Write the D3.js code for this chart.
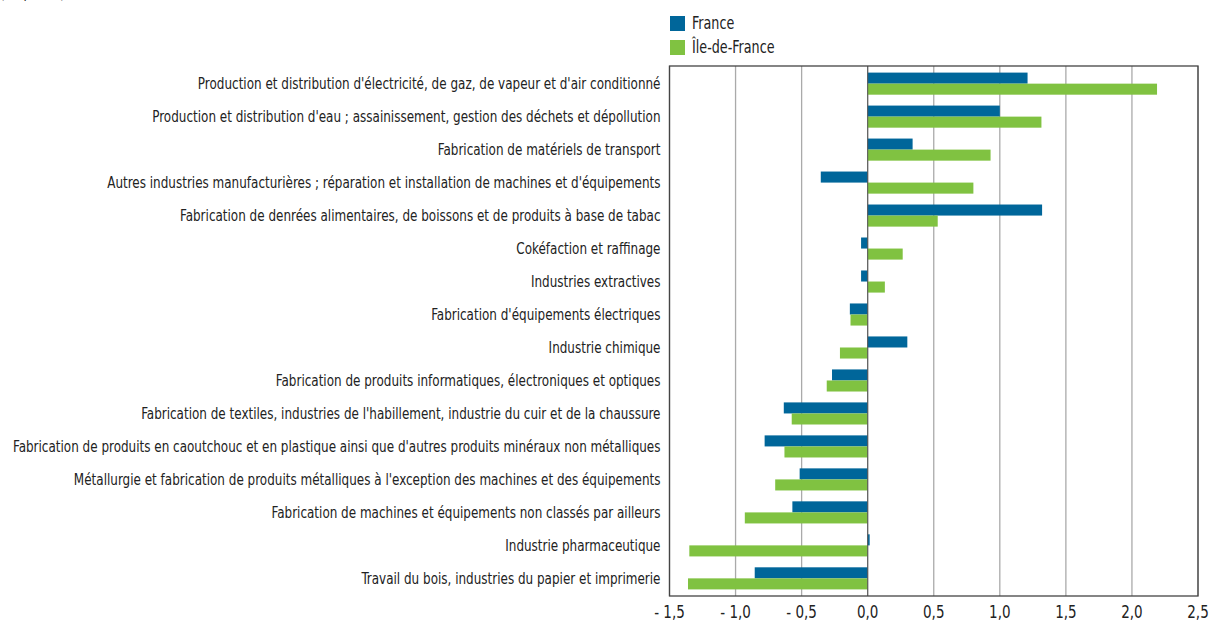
<!DOCTYPE html>
<html>
<head>
<meta charset="utf-8">
<script src="https://cdn.jsdelivr.net/npm/d3@7"></script>
<style>
  body { margin: 0; background: #fff; }
  text { font-family: "DejaVu Sans", sans-serif; font-stretch: condensed; fill: #222; }
</style>
</head>
<body>
<div id="chart"></div>
<script>
var categories = [
    "Production et distribution d'électricité, de gaz, de vapeur et d'air conditionné",
    "Production et distribution d'eau ; assainissement, gestion des déchets et dépollution",
    "Fabrication de matériels de transport",
    "Autres industries manufacturières ; réparation et installation de machines et d'équipements",
    "Fabrication de denrées alimentaires, de boissons et de produits à base de tabac",
    "Cokéfaction et raffinage",
    "Industries extractives",
    "Fabrication d'équipements électriques",
    "Industrie chimique",
    "Fabrication de produits informatiques, électroniques et optiques",
    "Fabrication de textiles, industries de l'habillement, industrie du cuir et de la chaussure",
    "Fabrication de produits en caoutchouc et en plastique ainsi que d'autres produits minéraux non métalliques",
    "Métallurgie et fabrication de produits métalliques à l'exception des machines et des équipements",
    "Fabrication de machines et équipements non classés par ailleurs",
    "Industrie pharmaceutique",
    "Travail du bois, industries du papier et imprimerie"
];

var france = [1.21, 1.00, 0.34, -0.355, 1.32, -0.05, -0.05, -0.135, 0.30, -0.27, -0.635, -0.78, -0.515, -0.57, 0.015, -0.855];
var ileDeFrance = [2.19, 1.315, 0.93, 0.80, 0.53, 0.265, 0.13, -0.13, -0.21, -0.31, -0.575, -0.63, -0.70, -0.93, -1.35, -1.36];

var seriesNames = ["France", "Île-de-France"];
var colors = ["#00669a", "#80c241"];
var ticks = [-1.5, -1, -0.5, 0, 0.5, 1, 1.5, 2, 2.5];

var width = 1211;
var height = 623;
var margin = {top: 66, right: 13, bottom: 27, left: 669.5};

var svg = d3.select("#chart").append("svg").attr("width", width).attr("height", height);

var x = d3.scaleLinear().domain([-1.5, 2.5]).range([margin.left, width - margin.right]);
var y = d3.scaleBand().domain(categories).range([margin.top, height - margin.bottom]).paddingInner(0.33).paddingOuter(0.2);
var sub = d3.scaleBand().domain(seriesNames).range([0, y.bandwidth()]);

// quadrillage
svg.selectAll(".grid")
    .data(ticks)
    .enter()
    .append("line")
    .attr("x1", function (d) { return x(d); })
    .attr("x2", function (d) { return x(d); })
    .attr("y1", margin.top)
    .attr("y2", height - margin.bottom)
    .attr("stroke", "#aaa")
    .attr("stroke-width", 1.3);

// barres
var rows = svg.selectAll(".row")
    .data(categories)
    .enter()
    .append("g")
    .attr("transform", function (d) { return "translate(0," + y(d) + ")"; });

[france, ileDeFrance].forEach(function (values, s) {
    rows.append("rect")
        .attr("fill", colors[s])
        .attr("x", function (d, i) { return x(Math.min(0, values[i])); })
        .attr("y", sub(seriesNames[s]))
        .attr("width", function (d, i) { return Math.abs(x(values[i]) - x(0)); })
        .attr("height", sub.bandwidth());
});

// ligne zéro
svg.append("line")
    .attr("x1", x(0)).attr("x2", x(0))
    .attr("y1", margin.top).attr("y2", height - margin.bottom)
    .attr("stroke", "#555").attr("stroke-width", 1);

// cadre
svg.append("rect")
    .attr("x", margin.left)
    .attr("y", margin.top)
    .attr("width", width - margin.right - margin.left)
    .attr("height", height - margin.bottom - margin.top)
    .attr("fill", "none")
    .attr("stroke", "#444")
    .attr("stroke-width", 1.3);

// libellés (police étroite simulée par une compression horizontale)
var catLabels = svg.selectAll(".cat")
    .data(categories)
    .enter()
    .append("g")
    .attr("class", "cat");
var catText = catLabels.append("text")
    .attr("text-anchor", "end")
    .attr("dy", "0.35em")
    .attr("font-size", "16px")
    .text(function (d) { return d; });

var maxLen = d3.max(catText.nodes(), function (n) { return n.getComputedTextLength(); });
var k = 648 / maxLen;

catLabels.attr("transform", function (d) {
    return "translate(" + (margin.left - 9) + "," + (y(d) + y.bandwidth() / 2) + ") scale(" + k + ",1)";
});

// axe
var fmt = function (d) {
    var s = d3.format(".1f")(Math.abs(d)).replace(".", ",");
    return d < 0 ? "- " + s : s;
};
svg.selectAll(".tick_label")
    .data(ticks)
    .enter()
    .append("g")
    .attr("transform", function (d) { return "translate(" + x(d) + "," + (height - margin.bottom + 22) + ") scale(" + k + ",1)"; })
    .append("text")
    .attr("text-anchor", "middle")
    .attr("font-size", "18px")
    .text(fmt);

// légende
var legend = svg.selectAll(".legend")
    .data(seriesNames)
    .enter()
    .append("g")
    .attr("transform", function (d, i) { return "translate(670," + (16 + i * 24) + ")"; });
legend.append("rect")
    .attr("width", 15).attr("height", 15)
    .attr("fill", function (d, i) { return colors[i]; });
legend.append("g")
    .attr("transform", "translate(22,7.5) scale(" + k + ",1)")
    .append("text")
    .attr("dy", "0.35em")
    .attr("font-size", "17px")
    .text(function (d) { return d; });

// titre coupé en haut
svg.append("g").attr("transform", "translate(0,-2) scale(" + k + ",1)")
    .append("text").attr("font-size", "16px").text("(en points)");
</script>
</body>
</html>
